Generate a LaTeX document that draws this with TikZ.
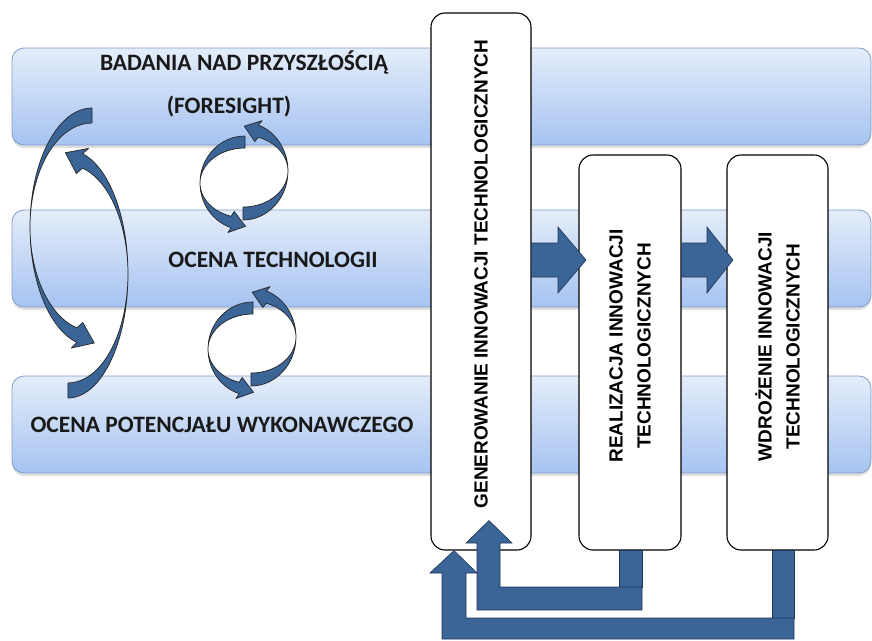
\documentclass[tikz,border=0pt]{standalone}
\usepackage{fontspec}
\usetikzlibrary{calc,shadows}
\newfontfamily\bandfont{Carlito}
\newfontfamily\boxfont{Liberation Sans}
\definecolor{bandtop}{HTML}{E4EDFA}
\definecolor{bandbot}{HTML}{A6C3F1}
\definecolor{bandline}{HTML}{7F9BC6}
\definecolor{arrowblue}{HTML}{3B6497}
\definecolor{arrowline}{HTML}{1F3556}
\tikzset{
  band/.style={rectangle, rounded corners=12pt, draw=bandline, line width=0.8pt,
    top color=bandtop, bottom color=bandbot, minimum width=859pt, minimum height=97pt,
    inner sep=0pt, drop shadow={shadow xshift=0pt, shadow yshift=-3pt, opacity=0.25}},
  bandtext/.style={font=\bandfont\bfseries\fontsize{23.5}{28}\selectfont, text=black!90, inner sep=0pt},
  procbox/.style={rectangle, rounded corners=14pt, draw=black, line width=1.1pt, fill=white, inner sep=0pt},
  boxtext/.style={font=\boxfont\bfseries\fontsize{19}{28}\selectfont, align=center, rotate=90, inner sep=0pt},
  blockarr/.style={fill=arrowblue, draw=arrowline, line width=0.6pt},
  curvearr/.style={fill=arrowblue, draw=black!85, line width=0.7pt, line join=round}
}

\begin{document}
\begin{tikzpicture}[x=1pt, y=-1pt]
	\useasboundingbox (0,0) rectangle (872,640);

	% bands
	\node[band] (fore) at (441.5,96.5) {};
	\node[band] (tech) at (441.5,258.5) {};
	\node[band] (pot) at (441.5,424.5) {};
	\node[bandtext] (foretext) at (244,63) {BADANIA NAD PRZYSZŁOŚCIĄ};
	\node[bandtext] (foresight) at (229,107) {(FORESIGHT)};
	\node[bandtext] (techtext) at (273,260) {OCENA TECHNOLOGII};
	\node[bandtext] (pottext) at (222,425) {OCENA POTENCJAŁU WYKONAWCZEGO};

	% big loop
	\filldraw[curvearr] (92,108) arc[start angle=270, end angle=104, x radius=62, y radius=119]
		-- (71.3,348) -- (94.3,343) -- (82.7,322.4) -- (77,327.9)
		arc[start angle=104, end angle=270, x radius=62, y radius=104] -- cycle;
	\filldraw[curvearr] (68,398) arc[start angle=90, end angle=-76, x radius=60, y radius=124]
		-- (88.6,148.4) -- (65.4,152.7) -- (76.4,173.6) -- (82.5,168.2)
		arc[start angle=-76, end angle=90, x radius=60, y radius=109] -- cycle;

	% small loops
	\foreach \dy/\dx in {0/0, 166/8} {
	\begin{scope}[shift={(\dx,\dy)}]
		\filldraw[curvearr] (245,136) arc[start angle=270, end angle=108, x radius=45, y radius=47]
			-- (228,232.5) -- (245.5,226.3) -- (234.2,211.5) -- (231.1,216.3)
			arc[start angle=108, end angle=270, x radius=45, y radius=35] -- cycle;
		\filldraw[curvearr] (243,220) arc[start angle=90, end angle=-70, x radius=45, y radius=49]
			-- (262,120.7) -- (244.2,126.2) -- (254.8,141.5) -- (258.4,137.2)
			arc[start angle=-70, end angle=90, x radius=45, y radius=36] -- cycle;
	\end{scope}
	}

	% process boxes
	\node[procbox, minimum width=100pt, minimum height=537pt] (gen) at (481,281.5) {};
	\node[procbox, minimum width=102pt, minimum height=395pt] (real) at (630,352.5) {};
	\node[procbox, minimum width=101pt, minimum height=395pt] (wdr) at (777.5,352.5) {};
	\node[boxtext] (gentext) at ($(gen.center)+(0,-7.5)$) {GENEROWANIE INNOWACJI TECHNOLOGICZNYCH};
	\node[boxtext] (realtext) at ($(real.center)+(0,-6.5)$) {REALIZACJA INNOWACJI\\TECHNOLOGICZNYCH};
	\node[boxtext] (wdrtext) at ($(wdr.center)+(0,-6)$) {WDROŻENIE INNOWACJI\\TECHNOLOGICZNYCH};

	% forward arrows
	\filldraw[blockarr] (gen.east |- 0,243) -- (558,243) -- (558,227) -- (586,260) -- (558,293)
		-- (558,277) -- (gen.east |- 0,277) -- cycle;
	\filldraw[blockarr] (real.east |- 0,243) -- (707,243) -- (707,227) -- (733,260) -- (707,293)
		-- (707,277) -- (real.east |- 0,277) -- cycle;

	% feedback arrows
	\filldraw[blockarr] (772,0 |- wdr.south) rectangle (794,618);
	\filldraw[blockarr] (794,618) -- (794,639) -- (442,639) -- (442,573) -- (430,573)
		-- (454,0 |- gen.south) -- (477,573) -- (466,573) -- (466,618) -- cycle;
	\filldraw[blockarr] (619,0 |- real.south) rectangle (642,587);
	\filldraw[blockarr] (642,587) -- (642,610) -- (477,610) -- (477,543) -- (466,543)
		-- ($(gen.south -| 489,0)+(0,-30)$) -- (512,543) -- (500,543) -- (500,587) -- cycle;
\end{tikzpicture}
\end{document}
